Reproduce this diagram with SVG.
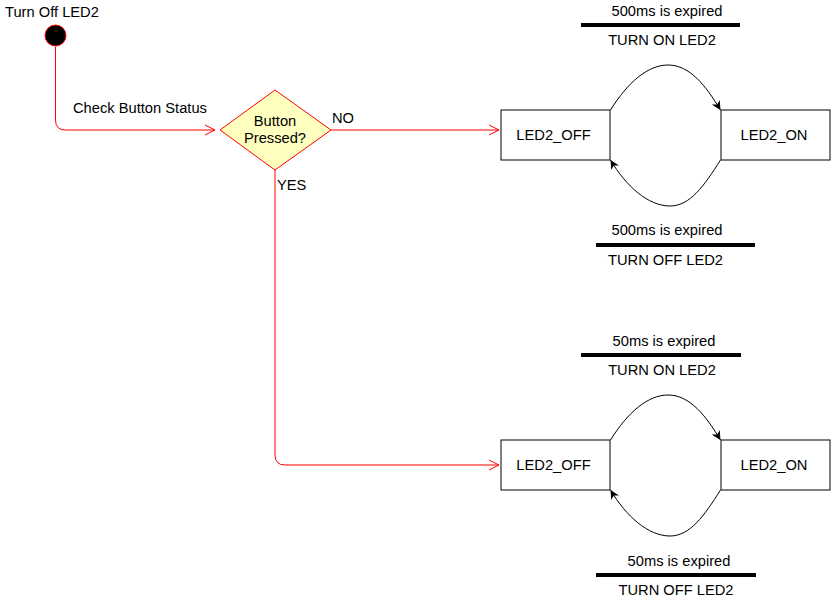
<svg xmlns="http://www.w3.org/2000/svg" width="832" height="607" viewBox="0 0 832 607">
<style>
text{font-family:"Liberation Sans",Arial,sans-serif;font-size:14.7px;fill:#000}
.mid{text-anchor:middle}
.state{fill:#fff;stroke:#000;stroke-width:1}
.red{fill:none;stroke:#ff0000;stroke-width:1}
.arc{fill:none;stroke:#000;stroke-width:1;marker-end:url(#fa)}
.bar{stroke:#000;stroke-width:4}
</style>
<defs>
<marker id="fa" viewBox="0 0 10 10" refX="10" refY="5" markerWidth="9" markerHeight="9" markerUnits="userSpaceOnUse" orient="auto">
<path d="M0,0 L10,5 L0,10 L3,5 Z" fill="#000"/>
</marker>
</defs>
<rect width="832" height="607" fill="#fff"/>
<g id="start">
<text x="5" y="17">Turn Off LED2</text>
<circle cx="55.5" cy="35.5" r="10.5" fill="#000" stroke="#ff0000" stroke-width="1"/>
</g>
<g id="decision">
<polygon points="220,130 275,90 331,130 275,170" fill="#ffffc0" stroke="#ff0000" stroke-width="1"/>
<text x="275" y="126" class="mid">Button</text>
<text x="275" y="143" class="mid">Pressed?</text>
</g>
<g id="off1"><rect x="501" y="110" width="109" height="50" class="state"/><text x="553.5" y="140" class="mid">LED2_OFF</text></g>
<g id="on1"><rect x="721" y="110" width="109" height="50" class="state"/><text x="774" y="140" class="mid">LED2_ON</text></g>
<g id="off2"><rect x="501" y="440" width="109" height="50" class="state"/><text x="553.5" y="470" class="mid">LED2_OFF</text></g>
<g id="on2"><rect x="721" y="440" width="109" height="50" class="state"/><text x="774" y="470" class="mid">LED2_ON</text></g>
<g id="connectors">
<path class="red" d="M55.5,47 V120 Q55.5,130 65.5,130 H215"/>
<path class="red" d="M205,125 L215,130 L205,135"/>
<text x="73" y="113">Check Button Status</text>
<path class="red" d="M331,130 H499"/>
<path class="red" d="M489,125 L499,130 L489,135"/>
<text x="332" y="123">NO</text>
<path class="red" d="M275,170 V455 Q275,465 285,465 H499"/>
<path class="red" d="M489,460 L499,465 L489,470"/>
<text x="277" y="190">YES</text>
<path class="arc" d="M610.5,110 C628,82 648,65 668,65 C690,65 706,86 720.5,110"/>
<path class="arc" d="M720.5,160 C704,186 690,206 670,206 C648,206 626,186 610.5,160"/>
<path class="arc" d="M610.5,440 C628,412 648,395 668,395 C690,395 706,416 720.5,440"/>
<path class="arc" d="M720.5,490 C704,516 690,536 670,536 C648,536 626,516 610.5,490"/>
</g>
<g id="labels">
<text x="667" y="16" class="mid">500ms is expired</text>
<line x1="581" y1="25" x2="740" y2="25" class="bar"/>
<text x="662" y="45" class="mid">TURN ON LED2</text>
<text x="667" y="235" class="mid">500ms is expired</text>
<line x1="596" y1="245" x2="755" y2="245" class="bar"/>
<text x="665.5" y="265" class="mid">TURN OFF LED2</text>
<text x="664" y="346" class="mid">50ms is expired</text>
<line x1="581" y1="355" x2="741" y2="355" class="bar"/>
<text x="662" y="375" class="mid">TURN ON LED2</text>
<text x="679" y="566" class="mid">50ms is expired</text>
<line x1="596" y1="575" x2="756" y2="575" class="bar"/>
<text x="676" y="595" class="mid">TURN OFF LED2</text>
</g>
</svg>
